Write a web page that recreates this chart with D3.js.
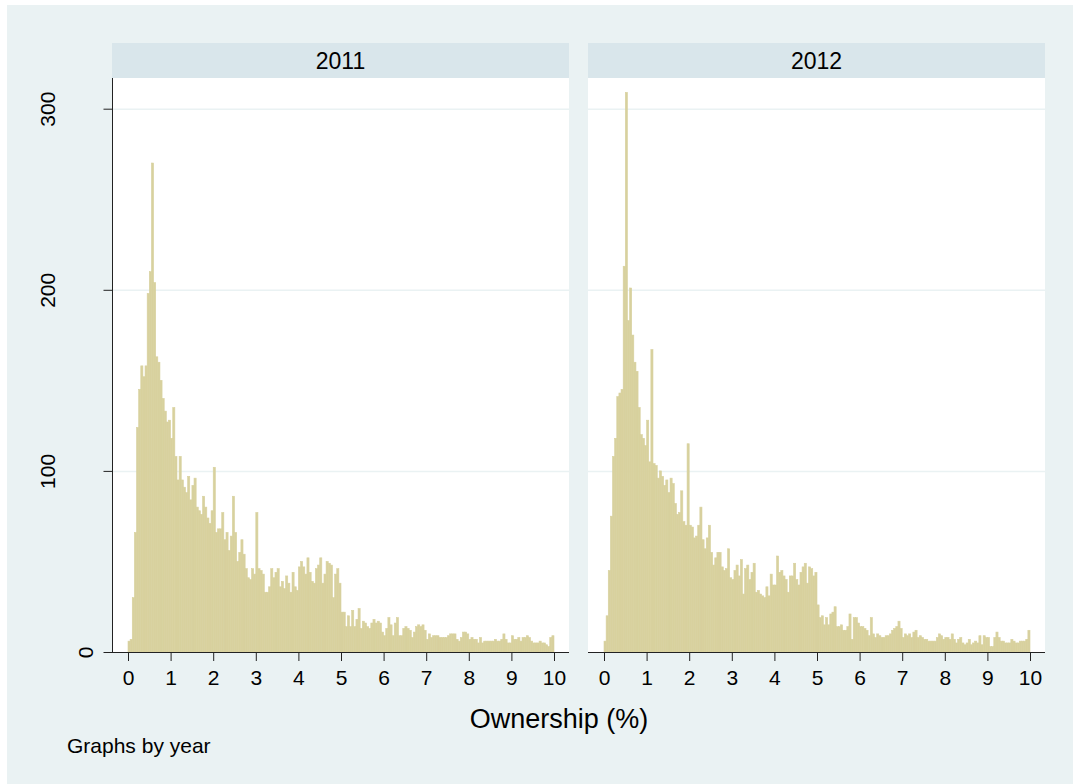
<!DOCTYPE html>
<html>
<head>
<meta charset="utf-8">
<script src="https://cdn.jsdelivr.net/npm/d3@7/dist/d3.min.js"></script>
<style>
  body { margin: 0; background: #fff; }
  text { font-family: "Liberation Sans", Arial, sans-serif; fill: #000; }
</style>
</head>
<body>
<svg id="chart" width="1073" height="784"></svg>
<script>
const years = ['2011', '2012'];
const binWidth = 0.05;

const counts2011 = [
    6, 7, 30, 66, 124, 145, 158, 152, 158, 198,
    210, 270, 204, 163, 160, 150, 140, 133, 127, 128,
    118, 135, 108, 95, 108, 95, 91, 88, 97, 84,
    92, 96, 80, 78, 76, 86, 80, 74, 71, 78,
    102, 66, 68, 68, 77, 62, 66, 56, 64, 86,
    66, 50, 55, 62, 54, 46, 41, 40, 46, 43,
    77, 46, 45, 43, 33, 33, 36, 46, 41, 44,
    46, 36, 39, 35, 42, 38, 33, 44, 36, 34,
    47, 50, 47, 43, 52, 44, 39, 38, 46, 48,
    52, 38, 43, 50, 49, 48, 30, 43, 46, 38,
    22, 22, 14, 20, 14, 23, 14, 18, 24, 13,
    17, 16, 14, 13, 16, 18, 16, 17, 16, 11,
    9, 13, 19, 15, 9, 16, 19, 9, 9, 13,
    14, 13, 12, 8, 11, 14, 15, 14, 15, 12,
    7, 10, 8, 9, 9, 9, 8, 8, 8, 8,
    9, 10, 10, 10, 7, 6, 8, 11, 11, 10,
    7, 8, 7, 7, 5, 8, 5, 6, 6, 6,
    6, 6, 7, 6, 6, 7, 10, 7, 5, 5,
    9, 7, 7, 8, 6, 8, 8, 9, 8, 6,
    5, 5, 5, 6, 5, 5, 4, 3, 8, 9
];

const counts2012 = [
    6, 20, 45, 75, 108, 118, 141, 143, 145, 213,
    309, 183, 201, 175, 160, 155, 135, 120, 118, 114,
    128, 105, 167, 104, 103, 96, 100, 97, 92, 95,
    88, 96, 93, 82, 76, 77, 89, 72, 70, 115,
    70, 69, 63, 64, 70, 80, 62, 57, 63, 70,
    55, 48, 52, 55, 55, 47, 45, 46, 57, 41,
    40, 45, 48, 42, 51, 32, 46, 48, 40, 44,
    49, 33, 34, 32, 31, 30, 36, 31, 43, 37,
    37, 53, 44, 45, 42, 40, 33, 42, 42, 49,
    40, 37, 44, 47, 49, 38, 47, 46, 42, 44,
    26, 19, 20, 15, 19, 15, 21, 22, 25, 14,
    14, 15, 12, 12, 14, 21, 7, 19, 19, 16,
    14, 14, 13, 12, 9, 19, 10, 8, 10, 9,
    8, 8, 9, 9, 10, 12, 13, 14, 17, 13,
    8, 10, 9, 10, 8, 11, 12, 8, 9, 8,
    7, 7, 6, 6, 6, 6, 8, 10, 9, 7,
    8, 8, 7, 10, 7, 5, 7, 8, 5, 4,
    5, 7, 4, 5, 6, 5, 9, 4, 9, 8,
    8, 3, 3, 8, 11, 8, 6, 6, 5, 5,
    5, 7, 6, 5, 5, 6, 6, 6, 7, 12
];

const xTicks = [0, 1, 2, 3, 4, 5, 6, 7, 8, 9, 10];
const yTicks = [0, 100, 200, 300];

const svg = d3.select('#chart');

/*fundo*/
svg.append('rect')
    .attr('x', 7).attr('y', 5)
    .attr('width', 1066).attr('height', 779)
    .attr('fill', '#eaf2f3');

const plotTop = 78;
const plotBottom = 652;
const panelWidth = 457;
const panelLeft = [112, 588];

const yScale = d3.scaleLinear()
    .domain([0, 300])
    .range([plotBottom, 108.7]);

function painel (ano, contagens, left, mostrarY) {
    const g = svg.append('g');

    const xScale = d3.scaleLinear()
        .domain([0, 10])
        .range([left + 16, left + 442]);

    /*strip*/
    g.append('rect')
        .attr('x', left).attr('y', 43)
        .attr('width', panelWidth).attr('height', plotTop - 43)
        .attr('fill', '#d9e6eb');

    g.append('text')
        .attr('x', left + panelWidth / 2)
        .attr('y', 68.5)
        .attr('text-anchor', 'middle')
        .style('font-size', '23px')
        .text(ano);

    /*area do grafico*/
    g.append('rect')
        .attr('x', left).attr('y', plotTop)
        .attr('width', panelWidth).attr('height', plotBottom - plotTop)
        .attr('fill', '#fff');

    /*grid*/
    g.append('g')
        .attr('transform', `translate(${left}, 0)`)
        .call(d3.axisLeft(yScale)
            .tickValues(yTicks.filter((t) => t > 0))
            .tickSize(-panelWidth)
            .tickFormat(''))
        .call((a) => a.select('.domain').remove())
        .selectAll('line')
        .attr('stroke', '#eaf2f3')
        .attr('stroke-width', 1.5);

    /*barras*/
    const dados = contagens.map((c, i) => ({ x0: i * binWidth, x1: (i + 1) * binWidth, n: c }));

    g.selectAll('.bar')
        .data(dados)
        .enter()
        .append('rect')
        .attr('class', 'bar')
        .attr('fill', '#d8d19e')
        .attr('stroke', '#d8d19e')
        .attr('stroke-width', 0.6)
        .attr('x', (d) => xScale(d.x0))
        .attr('y', (d) => yScale(d.n))
        .attr('width', (d) => xScale(d.x1) - xScale(d.x0))
        .attr('height', (d) => yScale(0) - yScale(d.n));

    /*eixo x*/
    const xAxis = g.append('g')
        .attr('transform', `translate(0, ${plotBottom})`)
        .call(d3.axisBottom(xScale)
            .tickValues(xTicks)
            .tickSize(9)
            .tickPadding(6)
            .tickFormat(d3.format('d')));

    xAxis.select('.domain')
        .attr('d', `M${left},0.5H${left + panelWidth}`)
        .attr('stroke', '#222');
    xAxis.selectAll('line').attr('stroke', '#222');
    xAxis.selectAll('text')
        .attr('font-family', null)
        .attr('font-size', null)
        .style('font-size', '21px')
        .attr('y', 33)
        .attr('dy', null);

    /*eixo y*/
    if (mostrarY) {
        const yAxis = g.append('g')
            .attr('transform', `translate(${left + 0.5}, 0)`)
            .call(d3.axisLeft(yScale)
                .tickValues(yTicks)
                .tickSize(9)
                .tickFormat(d3.format('d')));

        yAxis.select('.domain')
            .attr('d', `M0,${plotTop}V${plotBottom}`)
            .attr('stroke', '#222');
        yAxis.selectAll('line').attr('stroke', '#222');
        yAxis.selectAll('text')
            .attr('font-family', null)
            .attr('font-size', null)
            .style('font-size', '21px')
            .attr('x', null).attr('dy', null)
            .attr('text-anchor', 'middle')
            .attr('transform', (t) => {
                const s = String(t).length;
                return `translate(${-20 - (s - 1) * 19}, 0) rotate(-90)`;
            });
    }
}

years.forEach((ano, i) => {
    painel(ano, i === 0 ? counts2011 : counts2012, panelLeft[i], i === 0);
});

/*titulos*/
svg.append('text')
    .attr('x', 559)
    .attr('y', 728)
    .attr('text-anchor', 'middle')
    .style('font-size', '27px')
    .text('Ownership (%)');

svg.append('text')
    .attr('x', 67)
    .attr('y', 753)
    .style('font-size', '21px')
    .text('Graphs by year');
</script>
</body>
</html>
